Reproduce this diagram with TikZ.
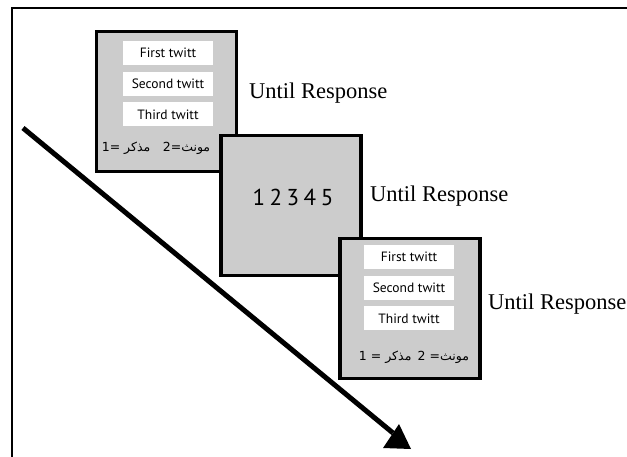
\documentclass[tikz,border=0pt]{standalone}
\usepackage{fontspec}
\setmainfont{Liberation Serif}
\newfontfamily\labelfont{PT Sans}
\newfontfamily\arabicfont[Script=Arabic]{DejaVu Sans}
\TeXXeTstate=1
\definecolor{boxgray}{HTML}{CCCCCC}
\begin{document}
\begin{tikzpicture}[x=1pt,y=-1pt,
  screen/.style={draw=black, line width=3.5pt, fill=boxgray, minimum width=140pt, minimum height=140pt, inner sep=0pt},
  twitt/.style={fill=white, minimum width=90pt, minimum height=24pt, inner sep=0pt, font=\labelfont\fontsize{13.5}{15}\selectfont},
  until/.style={anchor=base west, inner sep=0pt, font=\fontsize{22.5}{26}\selectfont},
  codes/.style={inner sep=0pt, font=\arabicfont\fontsize{12.5}{14}\selectfont},
  timeline/.style={line width=5pt}
]
\useasboundingbox (0,0) rectangle (627,457);
% frame
\coordinate (ftr) at (627,8);
\coordinate (ftl) at (11.5,8);
\coordinate (fbl) at (11.5,457);
\draw[line width=2pt] (ftr) -- (ftl) -- (fbl);

% screen 1
\node[screen] (s1) at (166.5,101.5) {};
\node[twitt] (t11) at (168,53) {First twitt};
\node[twitt] (t12) at (168,84) {Second twitt};
\node[twitt] (t13) at (168,114.5) {Third twitt};
\node[codes] (c1) at (156,148) {\beginR مونث=2\quad مذکر =1\endR};
\node[until] (u1) at (249,99) {Until Response};

% screen 2
\node[screen] (s2) at (291,205.5) {};
\node[inner sep=0pt, font=\labelfont\fontsize{23}{26}\selectfont] (n2) at (293,197) {1\hspace{4.5pt}2\hspace{4.5pt}3\hspace{4.5pt}4\hspace{4.5pt}5};
\node[until] (u2) at (370,202) {Until Response};

% screen 3
\node[screen] (s3) at (410,308.5) {};
\node[twitt] (t31) at (409,257) {First twitt};
\node[twitt] (t32) at (409,288) {Second twitt};
\node[twitt] (t33) at (409,318.5) {Third twitt};
\node[codes] (c3) at (414,357) {\beginR مونث= 2\enspace مذکر = 1\endR};
\node[until] (u3) at (488,309) {Until Response};

% time arrow
\coordinate (a0) at (23,128);
\coordinate (a1) at (393,433);
\coordinate (tipA) at (399,424);
\coordinate (tipB) at (411,449);
\coordinate (tipC) at (383,448);
\draw[timeline] (a0) -- (a1);
\fill (tipA) -- (tipB) -- (tipC) -- cycle;
\end{tikzpicture}
\end{document}
